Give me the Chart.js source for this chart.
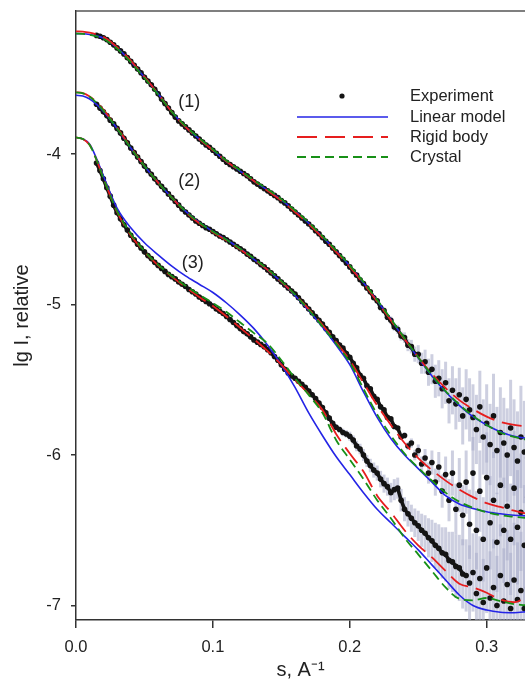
<!DOCTYPE html>
<html><head><meta charset="utf-8">
<script src="https://cdn.jsdelivr.net/npm/chart.js@4.4.1/dist/chart.umd.min.js"></script>
<style>html,body{margin:0;padding:0;background:#fff;}#wrap{width:525px;height:683px;}</style>
</head><body><div id="wrap"><canvas id="c" width="525" height="683"></canvas></div>
<script>
// ---------- data ----------
const sExp = [
0.015,0.0175,0.02,0.0225,0.025,0.0275,0.03,0.0325,0.035,0.0375,
0.04,0.0425,0.045,0.0475,0.05,0.0525,0.055,0.0575,0.06,0.0625,
0.065,0.0675,0.07,0.0725,0.075,0.0775,0.08,0.0825,0.085,0.0875,
0.09,0.0925,0.095,0.0975,0.1,0.1025,0.105,0.1075,0.11,0.1125,
0.115,0.1175,0.12,0.1225,0.125,0.1275,0.13,0.1325,0.135,0.1375,
0.14,0.1425,0.145,0.1475,0.15,0.1525,0.155,0.1575,0.16,0.1625,
0.165,0.1675,0.17,0.1725,0.175,0.1775,0.18,0.1825,0.185,0.1875,
0.19,0.1925,0.195,0.1975,0.2,0.2025,0.205,0.2075,0.21,0.2125,
0.215,0.2175,0.22,0.2225,0.225,0.2275,0.23,0.2325,0.235,0.2375,
0.24,0.2425,0.245,0.2475,0.25,0.2525,0.255,0.2575,0.26,0.2625,
0.265,0.2675,0.27,0.2725,0.275,0.2775,0.28,0.2825,0.285,0.2875,
0.29,0.2925,0.295,0.2975,0.3,0.3025,0.305,0.3075,0.31,0.3125,
0.315,0.3175,0.32,0.3225,0.325,0.3275,0.33];

const exp1 = [
-3.212,-3.218,-3.228,-3.24,-3.258,-3.275,-3.295,-3.315,-3.335,-3.36,
-3.385,-3.41,-3.435,-3.46,-3.49,-3.515,-3.54,-3.57,-3.60,-3.635,
-3.665,-3.695,-3.725,-3.755,-3.78,-3.80,-3.82,-3.84,-3.86,-3.88,
-3.90,-3.92,-3.94,-3.955,-3.975,-3.995,-4.015,-4.035,-4.055,-4.07,
-4.085,-4.10,-4.115,-4.13,-4.145,-4.165,-4.185,-4.20,-4.215,-4.23,
-4.245,-4.26,-4.275,-4.29,-4.31,-4.325,-4.345,-4.365,-4.385,-4.405,
-4.425,-4.445,-4.465,-4.485,-4.51,-4.53,-4.555,-4.58,-4.60,-4.625,
-4.65,-4.675,-4.70,-4.725,-4.75,-4.78,-4.805,-4.835,-4.86,-4.89,
-4.915,-4.955,-4.975,-5.02,-5.04,-5.085,-5.105,-5.15,-5.165,-5.21,
-5.22,-5.27,-5.28,-5.33,-5.33,-5.39,-5.38,-5.45,-5.43,-5.51,
-5.49,-5.56,-5.52,-5.64,-5.57,-5.66,-5.60,-5.74,-5.63,-5.70,
-5.75,-5.83,-5.68,-5.88,-5.79,-5.93,-5.74,-5.97,-5.85,-5.92,
-6.00,-5.82,-5.95,-6.04,-5.88,-5.98,-6.02];

const exp2 = [
-3.67,-3.695,-3.72,-3.745,-3.775,-3.80,-3.83,-3.86,-3.895,-3.925,
-3.96,-3.99,-4.02,-4.05,-4.08,-4.11,-4.135,-4.165,-4.19,-4.215,
-4.24,-4.265,-4.29,-4.315,-4.34,-4.365,-4.385,-4.405,-4.425,-4.445,
-4.46,-4.475,-4.49,-4.50,-4.515,-4.53,-4.545,-4.555,-4.57,-4.585,
-4.60,-4.615,-4.63,-4.645,-4.665,-4.68,-4.70,-4.715,-4.735,-4.75,
-4.77,-4.79,-4.81,-4.83,-4.85,-4.87,-4.89,-4.91,-4.93,-4.955,
-4.98,-5.005,-5.03,-5.055,-5.08,-5.105,-5.13,-5.16,-5.185,-5.215,
-5.24,-5.27,-5.29,-5.325,-5.35,-5.39,-5.42,-5.47,-5.49,-5.54,
-5.56,-5.61,-5.63,-5.68,-5.70,-5.75,-5.76,-5.81,-5.82,-5.88,
-5.87,-5.94,-5.92,-6.00,-5.97,-6.06,-6.02,-6.12,-6.05,-6.18,
-6.08,-6.24,-6.13,-6.30,-6.12,-6.36,-6.20,-6.40,-6.18,-6.46,
-6.12,-6.50,-6.24,-6.56,-6.15,-6.45,-6.30,-6.58,-6.20,-6.50,
-6.34,-6.56,-6.22,-6.48,-6.38,-6.60,-6.28];

const exp3 = [
-4.06,-4.11,-4.165,-4.225,-4.28,-4.34,-4.39,-4.43,-4.47,-4.505,
-4.54,-4.57,-4.60,-4.625,-4.65,-4.675,-4.695,-4.72,-4.74,-4.76,
-4.78,-4.80,-4.815,-4.83,-4.85,-4.865,-4.88,-4.90,-4.915,-4.93,
-4.95,-4.965,-4.98,-4.995,-5.01,-5.03,-5.045,-5.06,-5.08,-5.10,
-5.12,-5.14,-5.16,-5.18,-5.195,-5.215,-5.235,-5.25,-5.265,-5.28,
-5.30,-5.32,-5.345,-5.37,-5.40,-5.43,-5.455,-5.475,-5.49,-5.51,
-5.53,-5.55,-5.575,-5.60,-5.625,-5.655,-5.685,-5.72,-5.755,-5.79,
-5.815,-5.83,-5.85,-5.86,-5.875,-5.90,-5.94,-5.96,-6.00,-6.04,
-6.07,-6.10,-6.12,-6.16,-6.19,-6.21,-6.25,-6.23,-6.22,-6.30,
-6.36,-6.39,-6.42,-6.45,-6.47,-6.50,-6.52,-6.55,-6.57,-6.60,
-6.62,-6.65,-6.66,-6.70,-6.71,-6.74,-6.75,-6.79,-6.80,-6.85,
-6.78,-6.92,-6.82,-6.98,-6.75,-6.95,-6.88,-7.00,-6.80,-6.97,
-6.86,-7.02,-6.83,-6.96,-6.90,-7.02,-6.88];

const err1 = [
0,0,0,0,0,0,0,0,0,0, 0,0,0,0,0,0,0,0,0,0, 0,0,0,0,0,0,0,0,0,0, 0,0,0,0,0,0,0,0,0,0,
0,0,0,0,0,0,0,0,0,0, 0,0,0,0,0,0,0,0,0,0, 0,0,0,0,0,0,0,0,0,0, 0,0,0,0,0,0,0,0,0,0,
0.01,0.01,0.015,0.015,0.02,0.02,0.025,0.025,0.03,0.03,
0.035,0.04,0.045,0.05,0.06,0.07,0.08,0.09,0.10,0.11,
0.12,0.13,0.14,0.15,0.16,0.17,0.18,0.19,0.20,0.21,
0.22,0.23,0.24,0.25,0.26,0.27,0.28,0.29,0.30,0.30,
0.31,0.32,0.32,0.33,0.34,0.34,0.35];

const err2 = [
0,0,0,0,0,0,0,0,0,0, 0,0,0,0,0,0,0,0,0,0, 0,0,0,0,0,0,0,0,0,0, 0,0,0,0,0,0,0,0,0,0,
0,0,0,0,0,0,0,0,0,0, 0,0,0,0,0,0,0,0,0,0, 0,0,0,0,0,0,0,0,0,0, 0,0,0,0,0,0,0,0,0,0,
0,0,0,0,0,0,0,0,0,0,
0.02,0.025,0.03,0.035,0.04,0.05,0.06,0.07,0.08,0.09,
0.10,0.11,0.12,0.14,0.15,0.17,0.18,0.20,0.21,0.23,
0.24,0.26,0.27,0.28,0.30,0.31,0.32,0.33,0.34,0.35,
0.36,0.37,0.38,0.38,0.39,0.40,0.40];

const err3 = [
0,0,0,0,0,0,0,0,0,0, 0,0,0,0,0,0,0,0,0,0, 0,0,0,0,0,0,0,0,0,0, 0,0,0,0,0,0,0,0,0,0,
0,0,0,0,0,0,0,0,0,0, 0,0,0,0,0,0,0,0,0,0, 0,0,0,0,0,0,0,0,0,0,
0.02,0.02,0.025,0.025,0.03,0.03,0.035,0.035,0.04,0.04,
0.045,0.05,0.05,0.055,0.06,0.06,0.065,0.07,0.07,0.075,
0.08,0.085,0.09,0.095,0.10,0.11,0.12,0.13,0.14,0.15,
0.16,0.17,0.18,0.19,0.20,0.21,0.22,0.23,0.24,0.25,
0.26,0.27,0.28,0.29,0.30,0.31,0.32,0.33,0.34,0.35,
0.36,0.37,0.38,0.38,0.39,0.40,0.40];

const sFit = [0,0.005,0.01,0.015,0.02,0.03,0.04,0.05,0.06,0.07,0.08,0.09,0.1,0.11,0.12,0.13,0.14,0.15,0.16,0.17,0.18,0.19,0.2,0.21,0.22,0.23,0.24,0.25,0.26,0.27,0.28,0.29,0.3,0.31,0.32,0.33];

const lin1 = [-3.20,-3.201,-3.206,-3.215,-3.23,-3.295,-3.385,-3.49,-3.60,-3.72,-3.82,-3.90,-3.975,-4.05,-4.115,-4.18,-4.24,-4.305,-4.38,-4.46,-4.55,-4.645,-4.745,-4.855,-4.975,-5.10,-5.23,-5.355,-5.475,-5.58,-5.67,-5.745,-5.80,-5.845,-5.875,-5.89];
const rig1 = [-3.185,-3.187,-3.194,-3.205,-3.222,-3.29,-3.38,-3.487,-3.60,-3.72,-3.82,-3.90,-3.975,-4.05,-4.115,-4.18,-4.245,-4.31,-4.385,-4.465,-4.555,-4.65,-4.75,-4.86,-4.98,-5.105,-5.23,-5.35,-5.46,-5.555,-5.635,-5.695,-5.745,-5.78,-5.80,-5.81];
const cry1 = [-3.20,-3.202,-3.208,-3.218,-3.234,-3.30,-3.39,-3.495,-3.605,-3.72,-3.815,-3.895,-3.97,-4.045,-4.11,-4.175,-4.235,-4.30,-4.375,-4.455,-4.545,-4.64,-4.74,-4.85,-4.97,-5.095,-5.225,-5.35,-5.47,-5.575,-5.665,-5.74,-5.80,-5.85,-5.88,-5.90];

const lin2 = [-3.61,-3.615,-3.635,-3.67,-3.715,-3.83,-3.96,-4.08,-4.19,-4.29,-4.38,-4.455,-4.515,-4.57,-4.63,-4.70,-4.77,-4.85,-4.94,-5.04,-5.15,-5.27,-5.40,-5.58,-5.75,-5.89,-6.00,-6.09,-6.18,-6.27,-6.325,-6.355,-6.377,-6.39,-6.40,-6.405];
const rig2 = [-3.59,-3.595,-3.618,-3.655,-3.705,-3.825,-3.955,-4.08,-4.19,-4.29,-4.385,-4.46,-4.52,-4.575,-4.635,-4.70,-4.77,-4.85,-4.935,-5.03,-5.135,-5.25,-5.37,-5.52,-5.67,-5.80,-5.92,-6.02,-6.10,-6.17,-6.23,-6.28,-6.32,-6.345,-6.37,-6.39];
const cry2 = [-3.59,-3.597,-3.62,-3.66,-3.71,-3.83,-3.96,-4.08,-4.19,-4.29,-4.38,-4.455,-4.515,-4.57,-4.63,-4.695,-4.765,-4.845,-4.935,-5.035,-5.145,-5.26,-5.385,-5.56,-5.73,-5.87,-5.99,-6.085,-6.17,-6.25,-6.31,-6.35,-6.38,-6.40,-6.41,-6.42];

const lin3 = [-3.89,-3.90,-3.935,-4.03,-4.145,-4.36,-4.49,-4.59,-4.67,-4.745,-4.81,-4.865,-4.92,-4.99,-5.07,-5.16,-5.27,-5.40,-5.55,-5.72,-5.87,-6.01,-6.13,-6.25,-6.36,-6.45,-6.54,-6.63,-6.73,-6.83,-6.93,-7.00,-7.03,-7.045,-7.048,-7.04];
const rig3 = [-3.89,-3.90,-3.94,-4.04,-4.16,-4.385,-4.54,-4.65,-4.74,-4.815,-4.885,-4.95,-5.01,-5.08,-5.155,-5.23,-5.31,-5.40,-5.50,-5.595,-5.70,-5.86,-5.99,-6.11,-6.27,-6.38,-6.50,-6.60,-6.68,-6.77,-6.855,-6.88,-6.915,-6.96,-6.978,-6.94];
const cry3 = [-3.89,-3.90,-3.94,-4.04,-4.16,-4.38,-4.53,-4.645,-4.735,-4.81,-4.875,-4.935,-4.99,-5.05,-5.12,-5.19,-5.26,-5.37,-5.49,-5.60,-5.72,-5.90,-6.03,-6.16,-6.30,-6.42,-6.55,-6.66,-6.77,-6.88,-6.955,-6.965,-6.95,-6.97,-6.99,-7.00];

const xTicks = [0, 0.1, 0.2, 0.3];
const yTicks = [-7, -6, -5, -4];
const curveNames = ['(1)', '(2)', '(3)'];
const curveNameS = [0.0827, 0.0827, 0.0853];
const curveNameI = [-3.655, -4.18, -4.724];
const legendNames = ['Experiment', 'Linear model', 'Rigid body', 'Crystal'];

// ---------- styles ----------
const F = '"Liberation Sans", Arial, Helvetica, sans-serif';
const BLUE = '#2424e6', RED = '#e61e1e', GREEN = '#179017', DOT = '#141414';
const pts = (xs, ys) => xs.map((s, i) => ({x: s, y: ys[i]}));
const expDs = (ys, errs, bandEnd) => ({label: legendNames[0], data: pts(sExp, ys), errs: errs,
  showLine: true, borderColor: DOT, borderWidth: 3.6, borderCapStyle: 'round', borderJoinStyle: 'round',
  segment: {borderColor: c => (c.p1.parsed.x > bandEnd ? 'rgba(0,0,0,0)' : undefined)},
  pointRadius: 2.8, pointBackgroundColor: DOT, pointBorderWidth: 0, order: 10});
const fitDs = (ys, name, st, ord) => ({label: name, data: pts(sFit, ys), showLine: true,
  borderColor: st.color, borderWidth: st.w, borderDash: st.dash, pointRadius: 0,
  cubicInterpolationMode: 'monotone', fill: false, order: ord});

const styles = [
  {color: BLUE, dash: [], w: 1.6},
  {color: RED, dash: [20, 8], w: 1.8},
  {color: GREEN, dash: [9, 5], w: 1.8}
];

const datasets = [
  expDs(exp1, err1, 0.25), expDs(exp2, err2, 0.24), expDs(exp3, err3, 0.285),
  fitDs(lin1, legendNames[1], styles[0], 3),
  fitDs(lin2, legendNames[1], styles[0], 3),
  fitDs(lin3, legendNames[1], styles[0], 3),
  fitDs(rig1, legendNames[2], styles[1], 2),
  fitDs(rig2, legendNames[2], styles[1], 2),
  fitDs(rig3, legendNames[2], styles[1], 2),
  fitDs(cry1, legendNames[3], styles[2], 1),
  fitDs(cry2, legendNames[3], styles[2], 1),
  fitDs(cry3, legendNames[3], styles[2], 1)
];

// ---------- plugins ----------
const errorBars = {
  id: 'errorBars',
  beforeDatasetsDraw(chart) {
    const {ctx, chartArea: a, scales: {x, y}} = chart;
    ctx.save();
    ctx.beginPath(); ctx.rect(a.left, a.top, a.right - a.left, a.bottom - a.top); ctx.clip();
    ctx.strokeStyle = 'rgba(172,175,204,0.6)'; ctx.lineWidth = 3;
    chart.data.datasets.forEach(ds => {
      if (!ds.errs) return;
      ds.data.forEach((p, i) => {
        const e = ds.errs[i]; if (!e) return;
        const px = x.getPixelForValue(p.x);
        ctx.beginPath();
        ctx.moveTo(px, y.getPixelForValue(p.y - e));
        ctx.lineTo(px, y.getPixelForValue(p.y + e));
        ctx.stroke();
      });
    });
    ctx.restore();
  }
};

const decorations = {
  id: 'decorations',
  afterDraw(chart) {
    const {ctx, chartArea: a, scales: {x, y}} = chart;
    ctx.save();
    ctx.strokeStyle = '#555'; ctx.lineWidth = 1.5;
    ctx.beginPath(); ctx.moveTo(a.left, a.top); ctx.lineTo(a.right, a.top); ctx.stroke();
    ctx.fillStyle = '#222'; ctx.font = '18px ' + F; ctx.textAlign = 'center'; ctx.textBaseline = 'middle';
    curveNames.forEach((t, i) => ctx.fillText(t, x.getPixelForValue(curveNameS[i]), y.getPixelForValue(curveNameI[i])));
    const lx0 = 297, lx1 = 388, tx = 410, rows = [96, 117, 137, 157];
    ctx.font = '16.5px ' + F; ctx.textAlign = 'left';
    legendNames.forEach((t, i) => ctx.fillText(t, tx, rows[i]));
    ctx.fillStyle = DOT;
    ctx.beginPath(); ctx.arc(342, rows[0], 2.6, 0, Math.PI * 2); ctx.fill();
    styles.forEach((s, i) => {
      ctx.strokeStyle = s.color; ctx.lineWidth = s.w; ctx.setLineDash(s.dash);
      ctx.beginPath(); ctx.moveTo(lx0, rows[i + 1]); ctx.lineTo(lx1, rows[i + 1]); ctx.stroke();
    });
    ctx.restore();
  }
};

// ---------- chart ----------
new Chart(document.getElementById('c'), {
  type: 'scatter',
  data: {datasets},
  plugins: [errorBars, decorations],
  options: {
    responsive: false, animation: false, devicePixelRatio: 1,
    layout: {autoPadding: false, padding: {top: 11, right: 0, bottom: 0, left: 0}},
    plugins: {legend: {display: false}, tooltip: {enabled: false}},
    scales: {
      x: {
        type: 'linear', min: 0, max: 0.328,
        afterBuildTicks: s => { s.ticks = xTicks.map(v => ({value: v})); },
        afterFit: s => { s.height = 63; s.paddingLeft = 0; s.paddingRight = 0; },
        grid: {drawOnChartArea: false, drawTicks: true, tickLength: 8, color: '#333', lineWidth: 1.5},
        border: {display: true, color: '#333', width: 1.5},
        ticks: {color: '#222', font: {family: F, size: 16.5}, padding: 10, maxRotation: 0, autoSkip: false,
          callback: v => Number(v).toFixed(1)},
        title: {display: true, text: 's, A\u207B\u00B9', color: '#222', font: {family: F, size: 20}, padding: {top: 0, bottom: 1}}
      },
      y: {
        type: 'linear', min: -7.096, max: -3.05,
        afterBuildTicks: s => { s.ticks = yTicks.map(v => ({value: v})); },
        afterFit: s => { s.width = 76; s.paddingTop = 0; s.paddingBottom = 0; },
        grid: {drawOnChartArea: false, drawTicks: true, tickLength: 5, color: '#333', lineWidth: 1.5},
        border: {display: true, color: '#333', width: 1.5},
        ticks: {color: '#222', font: {family: F, size: 16.5}, padding: 10, autoSkip: false,
          callback: v => String(v)},
        title: {display: true, text: 'lg I, relative', color: '#222', font: {family: F, size: 20}, padding: {top: 10, bottom: 0}}
      }
    }
  }
});
</script>
</body></html>
